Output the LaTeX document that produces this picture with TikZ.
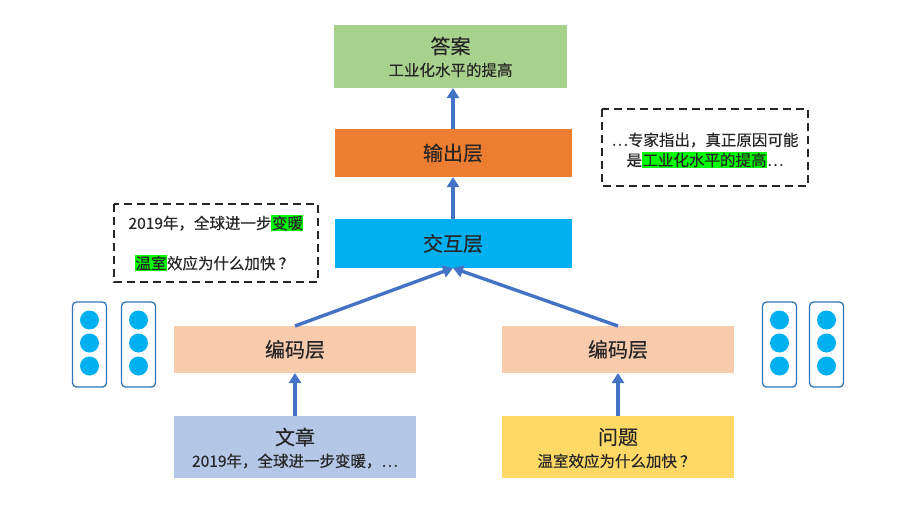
\documentclass[tikz,border=0pt]{standalone}
\usepackage{fontspec}
\setmainfont{Noto Sans CJK SC}[FakeBold=0.35]
\usetikzlibrary{arrows.meta}
\definecolor{ansg}{HTML}{A9D18E}
\definecolor{outo}{HTML}{ED7D31}
\definecolor{intc}{HTML}{00B0F0}
\definecolor{encp}{HTML}{F8CBAD}
\definecolor{artb}{HTML}{B4C7E7}
\definecolor{qy}{HTML}{FFD966}
\definecolor{arrb}{HTML}{4472C4}
\definecolor{txt}{HTML}{262626}
\definecolor{hl}{HTML}{00FF00}
\definecolor{vecb}{HTML}{2E75B6}
\definecolor{dot}{HTML}{00B0F0}
\newcommand{\hlt}[1]{{\setlength{\fboxsep}{0.5pt}\colorbox{hl}{#1}}}
\newcommand{\qm}{\kern3pt？\kern3pt}
\begin{document}
\begin{tikzpicture}[x=1pt,y=-1pt,
  boxn/.style={inner sep=0pt,text=txt,align=center},
  big/.style={font=\fontsize{20}{24}\selectfont},
  small/.style={font=\fontsize{15.5}{18}\selectfont},
  arr/.style={draw=arrb,line width=3.4pt,-{Triangle[length=10pt,width=12pt]}},
  dbox/.style={draw=black!85,line width=2.3pt,dash pattern=on 8pt off 5pt},
  vbox/.style={draw=vecb,line width=1.3pt,rounded corners=4pt},
  vdot/.style={fill=dot,draw=none}]
\useasboundingbox (0,0) rectangle (913,514);
% boxes
\fill[ansg] (334,25) rectangle (567,88);
\node[boxn,big] (ans) at (450.5,46) {答案};
\node[boxn,small] (anssub) at (450.5,70) {工业化水平的提高};
\coordinate (ansb) at (453,88);
\fill[outo] (335,129) rectangle (572,177);
\node[boxn,big] (out) at (453,153) {输出层};
\coordinate (outt) at (453,129);
\coordinate (outb) at (453,177);
\fill[intc] (335,219) rectangle (572,268);
\node[boxn,big] (int) at (453,243.5) {交互层};
\coordinate (intt) at (453,219);
\coordinate (intb) at (453,268);
\fill[encp] (174,326) rectangle (416,373);
\node[boxn,big] (encl) at (295,349.5) {编码层};
\coordinate (enclt) at (295,326);
\coordinate (enclb) at (295,373);
\fill[encp] (502,326) rectangle (734,373);
\node[boxn,big] (encr) at (618,349.5) {编码层};
\coordinate (encrt) at (618,326);
\coordinate (encrb) at (618,373);
\fill[artb] (174,416) rectangle (416,478);
\node[boxn,big] (art) at (295,437) {文章};
\node[boxn,small] (artsub) at (295,461) {2019年，全球进一步变暖，…};
\coordinate (artt) at (295,416);
\fill[qy] (502,416) rectangle (734,478);
\node[boxn,big] (q) at (618,437) {问题};
\node[boxn,small] (qsub) at (618,461) {温室效应为什么加快\qm};
\coordinate (qt) at (618,416);
% arrows
\draw[arr] (outt) -- (ansb);
\draw[arr] (intt) -- (outb);
\draw[arr] (enclt) -- (intb);
\draw[arr] (encrt) -- (intb);
\draw[arr] (artt) -- (enclb);
\draw[arr] (qt) -- (encrb);
% dashed boxes
\draw[dbox] (602,109) rectangle (808,186);
\node[boxn,small] (rt1) at (705,140) {…专家指出，真正原因可能};
\node[boxn,small] (rt2) at (705,160) {是\hlt{工业化水平的提高}…};
\draw[dbox] (114,204) rectangle (318,282);
\node[boxn,small] (lt1) at (216,223) {2019年，全球进一步\hlt{变暖}};
\node[boxn,small] (lt2) at (216,263) {\hlt{温室}效应为什么加快\qm};
% vectors
\foreach \x/\n in {89.5/a,138.5/b,779.5/c,826.5/d}{
  \draw[vbox] (\x-17,302) rectangle (\x+17,387);
  \foreach \y in {320,343,366}{
    \fill[vdot] (\x,\y) circle (9.5);
  }
}
\end{tikzpicture}
\end{document}
